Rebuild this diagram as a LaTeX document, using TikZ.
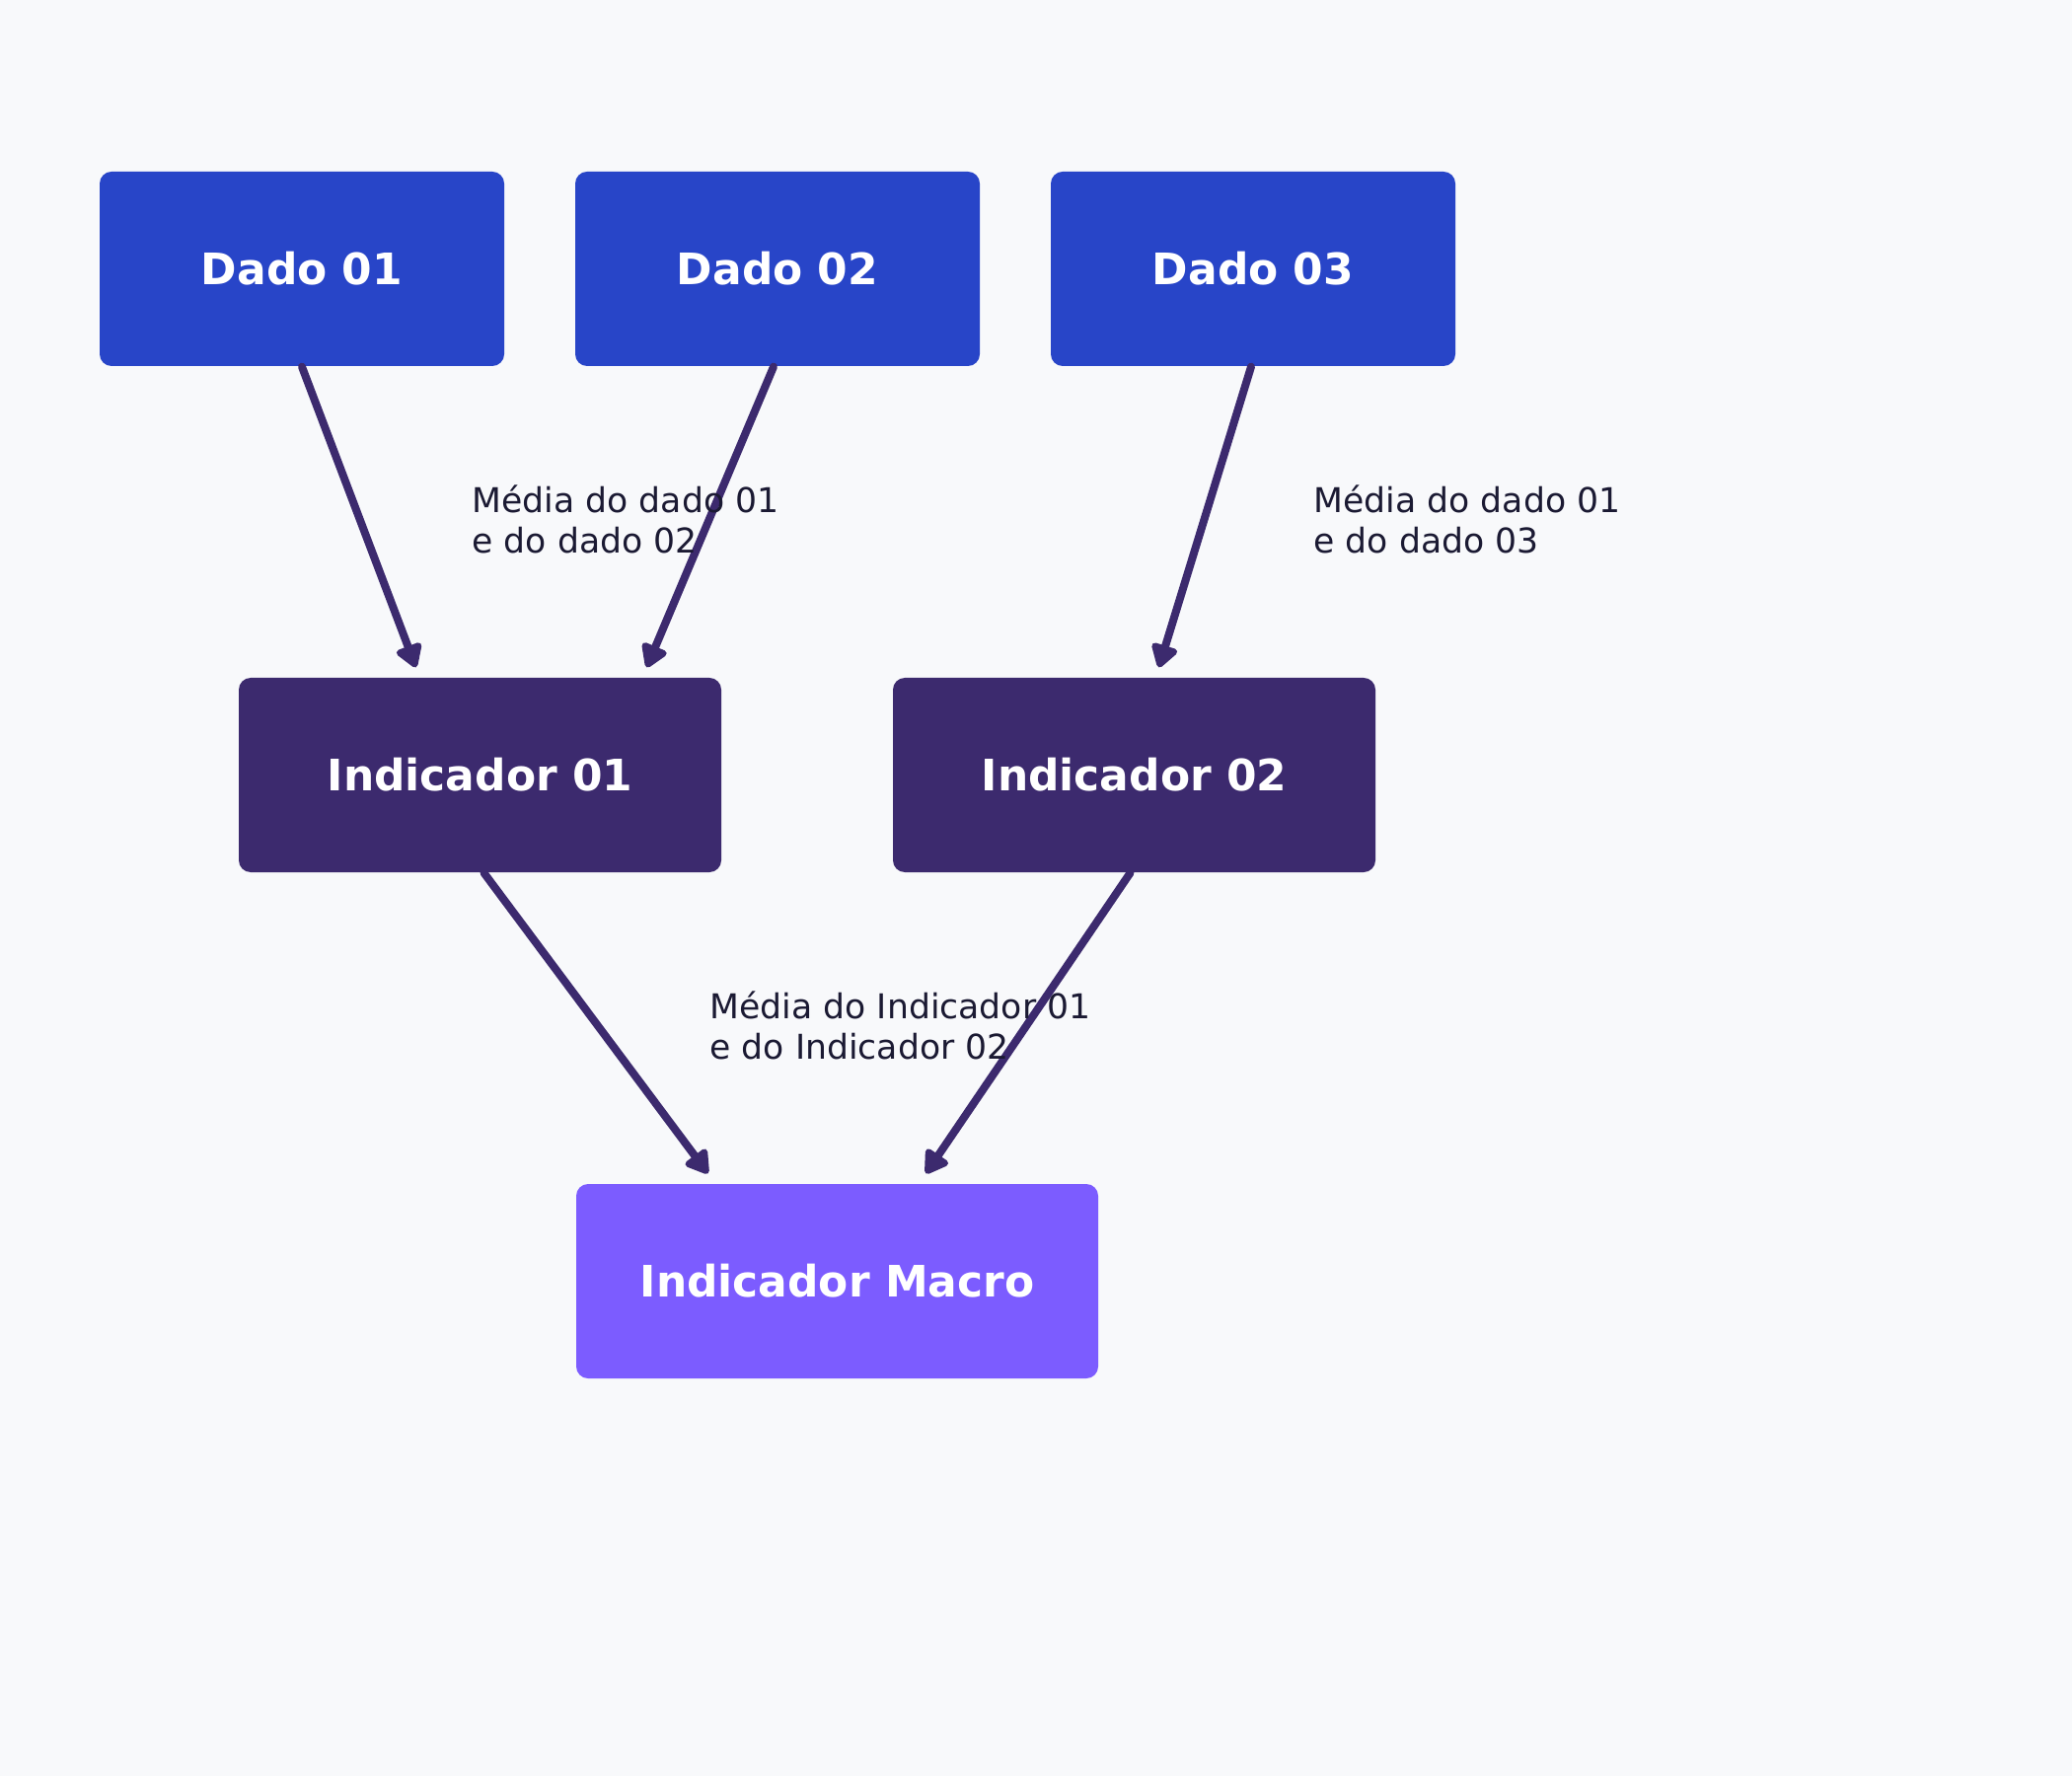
\documentclass[tikz,border=0pt]{standalone}
\usepackage{fontspec}
\setmainfont{DejaVu Sans}
\usepackage{xcolor}
\usepackage{tikz}
\usetikzlibrary{arrows.meta,positioning}
\definecolor{DBlue}{RGB}{40,69,200}
\definecolor{IPurple}{RGB}{60,42,110}
\definecolor{MViolet}{RGB}{124,92,255}
\definecolor{PageBg}{RGB}{248,249,251}
\definecolor{LabelInk}{RGB}{27,26,51}

\tikzset{
  box/.style={rounded corners=1.2mm, minimum height=19.7mm, inner sep=0pt,
    text=white, font=\fontsize{12.5}{15}\selectfont\bfseries},
  dadobox/.style={box, fill=DBlue, minimum width=41mm},
  indbox/.style={box, fill=IPurple, minimum width=48.9mm},
  macrobox/.style={box, fill=MViolet, minimum width=52.9mm},
  flow/.style={draw=IPurple, line width=0.8mm, line cap=round,
    -{Triangle[length=2.6mm,width=3mm,round]}},
  note/.style={anchor=north west, inner sep=0pt, align=left, text=LabelInk,
    font=\fontsize{9.85}{11.6}\selectfont}
}

\begin{document}
\begin{tikzpicture}[x=1mm,y=-1mm]
  \fill[PageBg] (0,0) rectangle (210,180);
  \useasboundingbox (0,0) rectangle (210,180);

  % dados
  \node[dadobox] (d1) at (30.6,27.25) {Dado 01};
  \node[dadobox] (d2) at (78.8,27.25) {Dado 02};
  \node[dadobox] (d3) at (127.0,27.25) {Dado 03};

  % indicadores
  \node[indbox] (i1) at (48.65,78.55) {Indicador 01};
  \node[indbox] (i2) at (114.95,78.55) {Indicador 02};
  \node[macrobox] (mac) at (84.85,129.85) {Indicador Macro};

  % pontos de saida e chegada
  \coordinate (d2s) at ([xshift=-0.4mm]d2.south);
  \coordinate (d3s) at ([xshift=-0.2mm]d3.south);
  \coordinate (i1s) at ([xshift=0.4mm]i1.south);
  \coordinate (i2s) at ([xshift=-0.4mm]i2.south);
  \coordinate (i1l) at ([xshift=-6.5mm,yshift=1mm]i1.north);
  \coordinate (i1r) at ([xshift=16.9mm,yshift=1mm]i1.north);
  \coordinate (i2m) at ([xshift=2.5mm,yshift=1mm]i2.north);
  \coordinate (macl) at ([xshift=-13.1mm,yshift=1mm]mac.north);
  \coordinate (macr) at ([xshift=9mm,yshift=1mm]mac.north);

  \draw[flow] (d1.south) -- (i1l);
  \draw[flow] (d2s) -- (i1r);
  \draw[flow] (d3s) -- (i2m);
  \draw[flow] (i1s) -- (macl);
  \draw[flow] (i2s) -- (macr);

  % legendas
  \node[note] (n1) at (47.8,49.1) {Média do dado 01\\e do dado 02};
  \node[note] (n2) at (133.1,49.1) {Média do dado 01\\e do dado 03};
  \node[note] (n3) at (71.9,100.4) {Média do Indicador 01\\e do Indicador 02};
\end{tikzpicture}
\end{document}
